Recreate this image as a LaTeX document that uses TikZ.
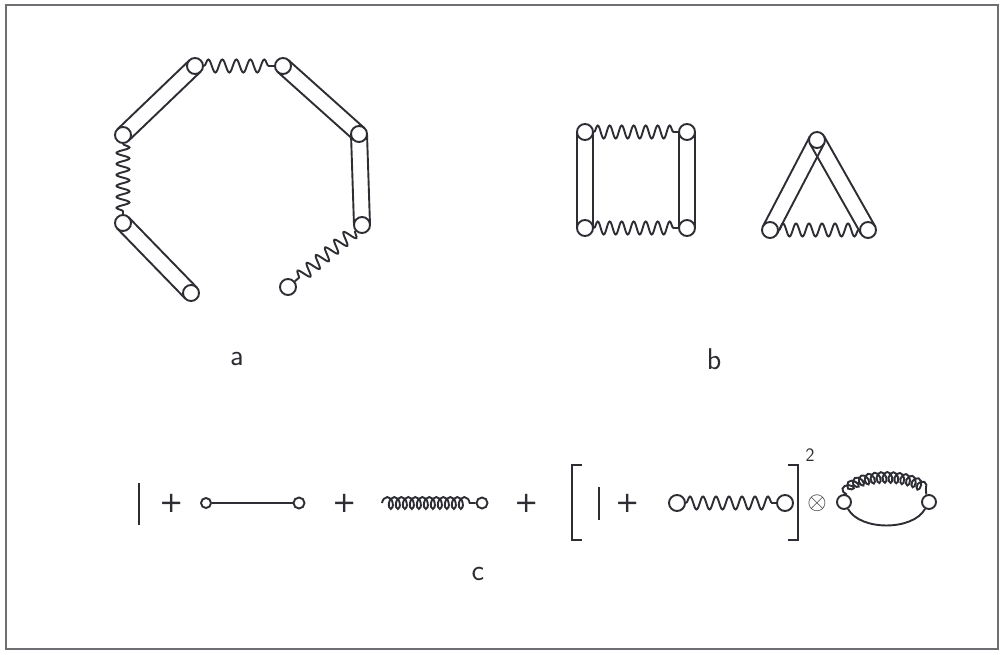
\documentclass[tikz,border=0pt]{standalone}
\usepackage{fontspec}
\newfontfamily\opfont{DejaVu Sans}
\usetikzlibrary{calc,decorations.pathmorphing}
\definecolor{ink}{RGB}{45,45,52}
\definecolor{framec}{RGB}{110,110,115}
\newcommand\drawtube[2]{%
  \draw[ln] ($(#1)!8pt!90:(#2)$) -- ($(#2)!8pt!-90:(#1)$);
  \draw[ln] ($(#1)!8pt!-90:(#2)$) -- ($(#2)!8pt!90:(#1)$);}
\begin{document}
\begin{tikzpicture}[x=1pt,y=-1pt,
  ln/.style={draw=ink,line width=1.9pt},
  vtx/.style={circle,draw=ink,line width=1.9pt,minimum size=16pt,inner sep=0pt},
  svtx/.style={circle,draw=ink,line width=1.9pt,minimum size=11pt,inner sep=0pt},
  spring/.style={ln,decorate,decoration={snake,segment length=#1,amplitude=6.5pt}},
  coilsp/.style={ln,decorate,decoration={coil,segment length=#1,amplitude=6pt,aspect=0.6}},
  lbl/.style={text=ink,font=\fontsize{30}{30}\selectfont\sffamily,inner sep=0pt},
  op/.style={text=ink,font=\fontsize{29}{29}\selectfont\opfont,inner sep=0pt}]
\useasboundingbox (0,0) rectangle (1003,655);
\draw[framec,line width=2pt] (6,5) rectangle (998,649);
% ---- a ----
\node[vtx] (a1) at (195,66) {};
\node[vtx] (a2) at (283,66) {};
\node[vtx] (a3) at (359,134) {};
\node[vtx] (a4) at (362,225) {};
\node[vtx] (a5) at (288,287) {};
\node[vtx] (a6) at (191,293) {};
\node[vtx] (a7) at (123,223) {};
\node[vtx] (a8) at (123,135) {};
\drawtube{a1}{a8}
\drawtube{a7}{a6}
\drawtube{a2}{a3}
\drawtube{a3}{a4}
\draw[spring=14pt] (a1) -- (a2);
\draw[spring=11pt] (a8) -- (a7);
\draw[spring=12pt] (a4) -- (a5);
\node[lbl] (la) at (237,359) {a};
% ---- b ----
\node[vtx] (s1) at (585,132) {};
\node[vtx] (s2) at (687,132) {};
\node[vtx] (s3) at (687,228) {};
\node[vtx] (s4) at (585,228) {};
\drawtube{s1}{s4}
\drawtube{s2}{s3}
\draw[spring=12pt] (s1) -- (s2);
\draw[spring=12pt] (s4) -- (s3);
\node[vtx] (t1) at (817,140) {};
\node[vtx] (t2) at (770,230) {};
\node[vtx] (t3) at (868,230) {};
\drawtube{t1}{t2}
\drawtube{t1}{t3}
\draw[spring=13pt] (t2) -- (t3);
\node[lbl] (lb) at (714,359) {b};
% ---- c ----
\coordinate (bar1a) at (139,483);
\coordinate (bar1b) at (139,525);
\draw[ln] (bar1a) -- (bar1b);
\node[op] (p1) at (172,503) {+};
\node[circle,draw=ink,line width=1.9pt,minimum size=10pt,inner sep=0pt] (c1) at (206,503) {};
\node[svtx] (c2) at (299,503) {};
\draw[ln] (c1) -- (c2);
\node[op] (p2) at (345,503) {+};
\coordinate (c3) at (382,503);
\node[svtx] (c4) at (482,503) {};
\draw[coilsp=7pt] (c3) -- (c4);
\node[op] (p3) at (527,503) {+};
\coordinate (bl1) at (582,465);
\coordinate (bl2) at (572,465);
\coordinate (bl3) at (572,540);
\coordinate (bl4) at (582,540);
\draw[ln] (bl1) -- (bl2) -- (bl3) -- (bl4);
\coordinate (bar2a) at (599,487);
\coordinate (bar2b) at (599,520);
\draw[ln] (bar2a) -- (bar2b);
\node[op] (p4) at (628,503) {+};
\node[vtx] (d1) at (677,503) {};
\node[vtx] (d2) at (785,503) {};
\draw[spring=13pt] (d1) -- (d2);
\coordinate (br1) at (788,465);
\coordinate (br2) at (798,465);
\coordinate (br3) at (798,540);
\coordinate (br4) at (788,540);
\draw[ln] (br1) -- (br2) -- (br3) -- (br4);
\node[text=ink,font=\fontsize{19}{19}\selectfont\sffamily,inner sep=0pt] (sq) at (810,455) {2};
\node[text=ink,font=\fontsize{25}{25}\selectfont,inner sep=0pt] (ot) at (817,503) {$\otimes$};
\node[svtx,minimum size=14pt] (e1) at (844,502) {};
\node[svtx,minimum size=14pt] (e2) at (929,502) {};
\draw[ln] (e1.-60) .. controls (860,531) and (913,531) .. (e2.-120);
\draw[ln,decorate,decoration={coil,segment length=6pt,amplitude=5.5pt,aspect=0.6}] (e1.70) .. controls (852,472) and (921,472) .. (e2.110);
\node[lbl] (lc) at (478,574) {c};
\end{tikzpicture}
\end{document}
